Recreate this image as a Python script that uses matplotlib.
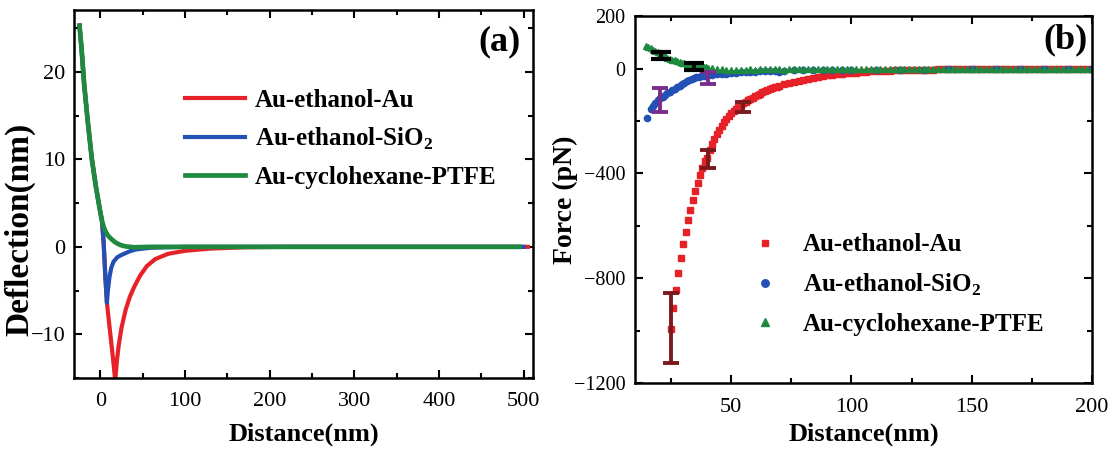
import matplotlib
matplotlib.use("Agg")
import matplotlib.pyplot as plt
from matplotlib.ticker import MultipleLocator

# fonts
# =======================
plt.rcParams['font.family'] = ['Liberation Serif', 'DejaVu Serif']
plt.rcParams['mathtext.fontset'] = 'custom'
plt.rcParams['mathtext.rm'] = 'Liberation Serif'
plt.rcParams['mathtext.bf'] = 'Liberation Serif:bold'

# data, panel (a): deflection vs distance
# =======================
defl_red_x = [-24.5, -22, -19, -15, -10, -5, 0, 2, 4, 6, 7.9, 10, 12.5, 15, 17.7,
              19.5, 21.6, 25, 30, 35, 40, 47, 55, 65, 80, 100, 130, 170, 220, 300, 400, 505]
defl_red_y = [25.3, 22.6, 18.6, 14.6, 10.1, 6.8, 4.0, 3.0, 0.5, -3.4, -6.4, -8.3, -10.5, -12.7, -15.3,
              -13.2, -11.4, -9.3, -7.2, -5.7, -4.6, -3.3, -2.2, -1.4, -0.8, -0.45, -0.2, -0.05, 0, 0, 0, 0]

defl_blue_x = [-24.5, -22, -19, -15, -10, -5, 0, 2, 4, 6, 7.9, 9, 11, 13, 15.7,
               20, 23.6, 28, 35, 42, 51, 60, 80, 100, 200, 300, 400, 500]
defl_blue_y = [25.3, 22.6, 18.6, 14.6, 10.1, 6.8, 4.0, 3.0, 0.5, -3.4, -6.4, -5.0, -3.4, -2.4, -1.7,
               -1.2, -1.0, -0.8, -0.5, -0.3, -0.2, -0.1, -0.05, 0, 0, 0, 0, 0]

defl_green_x = [-24.5, -22, -19, -15, -10, -5, 0, 2, 4, 6, 9, 13, 18, 24, 30, 40, 60, 100, 200, 300, 400, 495]
defl_green_y = [25.3, 22.6, 18.6, 14.6, 10.1, 6.8, 4.0, 3.0, 2.3, 1.8, 1.3, 0.9, 0.5, 0.2, 0.05, -0.05,
                0, 0, 0, 0, 0, 0]

# data, panel (b): force vs distance
# =======================
force_red_x = [25, 26, 27, 28, 29, 30, 31, 32, 33, 34, 35, 36, 37, 38, 39, 40, 41, 42, 43, 44, 45,
               46, 47, 48, 49, 50, 51, 52, 53, 54, 55, 56, 57, 58, 59, 60, 61, 62, 63, 64, 65, 66,
               67, 68, 69, 70, 72, 74, 76, 78, 80, 82, 84, 86, 88, 90, 92, 94, 96, 98, 100, 102,
               104, 106, 108, 110, 112, 114, 116, 118, 120, 122, 124, 126, 128, 130, 132, 134,
               136, 138, 140, 142, 144, 146, 148, 150, 152, 154, 156, 158, 160, 162, 164, 166,
               168, 170, 172, 174, 176, 178, 180, 182, 184, 186, 188, 190, 192, 194, 196, 198, 200]
force_red_y = [-995, -915, -845, -780, -722, -670, -624, -578, -538, -500, -466, -436, -405, -378,
               -352, -340, -312, -288, -268, -250, -233, -218, -204, -192, -180, -170, -161, -153,
               -146, -139, -133, -127, -121, -116, -111, -106, -101, -96, -91, -87, -83, -79, -75,
               -72, -69, -66, -60, -55, -50, -46, -42, -38, -35, -32, -29, -26, -24, -22, -20, -18,
               -16, -15, -13, -12, -11, -10, -9, -9, -8, -7, -7, -6, -6, -5, -5, -4, -4, -4, -3,
               -3, -3, -3, -2, -2, -2, -2, -1, -1, -1, -1, -1, -1, 0, 0, 0, 0, 0, 0, 0, 0, 0, 0,
               0, 0, 0, 0, 0, 0, 0, 0, 0]

force_blue_x = [15, 16.5, 17.5, 18.5, 19.5, 20.5, 21.5, 22.5, 23.5, 24.5, 25.5, 26.5, 27.5, 28.5,
                29.5, 30.5, 31.5, 32.5, 33.5, 34.5, 35.5, 36.5, 37.5, 38.5, 39.5, 40.5, 42, 44, 46,
                48, 50, 52, 54, 56, 58, 60, 62, 64, 66, 68, 70, 72, 76, 80, 84, 88, 92, 96, 100,
                110, 120, 130, 140, 150, 160, 170, 180, 190, 200]
force_blue_y = [-188, -155, -142, -130, -120, -113, -107, -101, -95, -88, -82, -76, -70, -65, -59,
                -54, -49, -45, -41, -37, -34, -31, -29, -27, -26, -25, -24, -22, -20, -19, -17, -15,
                -14, -13, -13, -12, -11, -11, -10, -10, -12, -8, -7, -7, -6, -6, -5, -5, -5, -4,
                -4, -4, -3, -3, -3, -3, -2, -2, -2]

force_green_x = [14.5, 15.5, 16.5, 17.5, 18.5, 19.5, 20.5, 21.5, 22.5, 23.5, 24.5, 25.5, 26.5, 27.5,
                 28.5, 29.5, 30.5, 31.5, 32.5, 33.5, 34.5, 35.5, 36.5, 37.5, 38.5, 39.5, 40.5, 42,
                 44, 46, 48, 50, 52, 54, 56, 58, 60, 62, 64, 66, 68, 70, 72, 74, 76, 78, 80, 82, 84,
                 86, 88, 90, 92, 94, 96, 98, 100, 102, 104, 106, 108, 110, 112, 114, 116, 118, 120,
                 122, 124, 126, 128, 130, 132, 134, 136, 138, 140, 142, 144, 146, 148, 150, 152, 154,
                 156, 158, 160, 162, 164, 166, 168, 170, 172, 174, 176, 178, 180, 182, 184, 186, 188,
                 190, 192, 194, 196, 198, 200]
force_green_y = [86, 81, 77, 72, 67, 62, 57, 52, 47, 42, 38, 34, 31, 28, 25, 23, 21, 19, 17, 14, 12,
                 11, 10, 8, 7, 5, 3, 1, -2, -3, -4, -5, -5, -4, -4, -3, -4, -2, -3, -1, -3, -2, -4,
                 -1, -3, -2, -2, 0, -3, -1, -2, -3, 0, -2, -1, -3, -1, -2, 0, -2, -3, -1, -2, 0, -1,
                 -2, -3, -1, 0, -2, -1, -2, 0, -1, -3, -1, 0, -2, -1, 0, -2, -1, 0, -2, 0, -1, -2, 0,
                 -1, 0, -2, -1, 0, -1, 0, -2, 0, -1, 0, -1, 0, -2, 0, -1, 0, -1, 0]

# error bars
err_red_x = [25.1, 40.2, 55.0]
err_red_y = [-990, -344, -147]
err_red_e = [134, 34, 19]
err_blue_x = [20.2, 40.2]
err_blue_y = [-120, -36]
err_blue_e = [46, 23]
err_green_x = [20.7, 34.7]
err_green_y = [50, 8]
err_green_e = [14, 12]

labels = ['Au-ethanol-Au', r'Au-ethanol-SiO$_\mathbf{2}$', 'Au-cyclohexane-PTFE']
c_red, c_blue, c_green = '#e62228', '#2350b4', '#1f8a3f'

# plot
# =======================
fig = plt.figure(figsize=(11.16, 4.5), dpi=100)
ax1 = fig.add_axes([0.0663, 0.16, 0.4113, 0.818])
ax2 = fig.add_axes([0.569, 0.149, 0.4095, 0.815])

# panel (a)
ax1.plot(defl_red_x, defl_red_y, color=c_red, lw=3, label=labels[0])
ax1.plot(defl_blue_x, defl_blue_y, color=c_blue, lw=3, label=labels[1])
ax1.plot(defl_green_x, defl_green_y, color=c_green, lw=3.4, label=labels[2])
ax1.set_xlim(-31, 511)
ax1.set_ylim(-15, 27.1)
ax1.xaxis.set_major_locator(MultipleLocator(100))
ax1.xaxis.set_minor_locator(MultipleLocator(50))
ax1.yaxis.set_major_locator(MultipleLocator(10))
ax1.yaxis.set_minor_locator(MultipleLocator(5))
ax1.tick_params(labelsize=16)
ax1.tick_params(axis='x', pad=10)
ax1.tick_params(axis='y', pad=6)
ax1.set_xlabel('Distance(nm)', fontsize=19, fontweight='bold')
ax1.set_ylabel('Deflection(nm)', fontsize=24, fontweight='bold')
ax1.xaxis.set_label_coords(0.5, -0.12)
ax1.yaxis.set_label_coords(-0.085, 0.405)
ax1.text(0.928, 0.913, '(a)', transform=ax1.transAxes, fontsize=26, fontweight='bold',
         ha='center', va='center')
ax1.legend(loc='upper left', bbox_to_anchor=(0.242, 0.785), frameon=False, borderpad=0,
           borderaxespad=0, handlelength=2.4, handletextpad=0.4, labelspacing=0.55,
           prop=dict(family='Liberation Serif', weight='bold', size=18))

# panel (b)
ax2.plot(force_red_x, force_red_y, ls='none', marker='s', ms=4, color=c_red, label=labels[0])
ax2.plot(force_blue_x, force_blue_y, ls='none', marker='o', ms=4.5, color=c_blue, label=labels[1])
ax2.plot(force_green_x, force_green_y, ls='none', marker='^', ms=5, color=c_green, label=labels[2])
ax2.errorbar(err_red_x, err_red_y, yerr=err_red_e, fmt='none', ecolor='#7a1a1e',
             elinewidth=2.8, capsize=6, capthick=2.8)
ax2.errorbar(err_blue_x, err_blue_y, yerr=err_blue_e, fmt='none', ecolor='#7a2d8c',
             elinewidth=2.8, capsize=6, capthick=2.8)
ax2.errorbar(err_green_x, err_green_y, yerr=err_green_e, fmt='none', ecolor='black',
             elinewidth=2.8, capsize=7, capthick=3)
ax2.set_xlim(10, 200)
ax2.set_ylim(-1200, 200)
ax2.xaxis.set_major_locator(MultipleLocator(50))
ax2.xaxis.set_minor_locator(MultipleLocator(25))
ax2.yaxis.set_major_locator(MultipleLocator(400))
ax2.yaxis.set_minor_locator(MultipleLocator(200))
ax2.set_yticks([200, 0, -400, -800, -1200])
ax2.tick_params(axis='x', labelsize=16, pad=11)
ax2.tick_params(axis='y', labelsize=14.5, pad=7)
ax2.set_xlabel('Distance(nm)', fontsize=19, fontweight='bold')
ax2.set_ylabel('Force (pN)', fontsize=20, fontweight='bold')
ax2.xaxis.set_label_coords(0.5, -0.108)
ax2.yaxis.set_label_coords(-0.125, 0.5)
ax2.text(0.941, 0.935, '(b)', transform=ax2.transAxes, fontsize=26, fontweight='bold',
         ha='center', va='center')
ax2.legend(loc='upper left', bbox_to_anchor=(0.252, 0.408), frameon=False, borderpad=0,
           borderaxespad=0, handlelength=1.2, handletextpad=0.9, labelspacing=0.6,
           markerscale=1.2, prop=dict(family='Liberation Serif', weight='bold', size=18))

# shared axis styling
for ax in (ax1, ax2):
    ax.tick_params(which='both', direction='in', top=True, right=True, width=1.5)
    ax.tick_params(which='major', length=6)
    ax.tick_params(which='minor', length=3.5)
    for s in ax.spines.values():
        s.set_linewidth(1.8)

fig.savefig('out.png', dpi=100)
